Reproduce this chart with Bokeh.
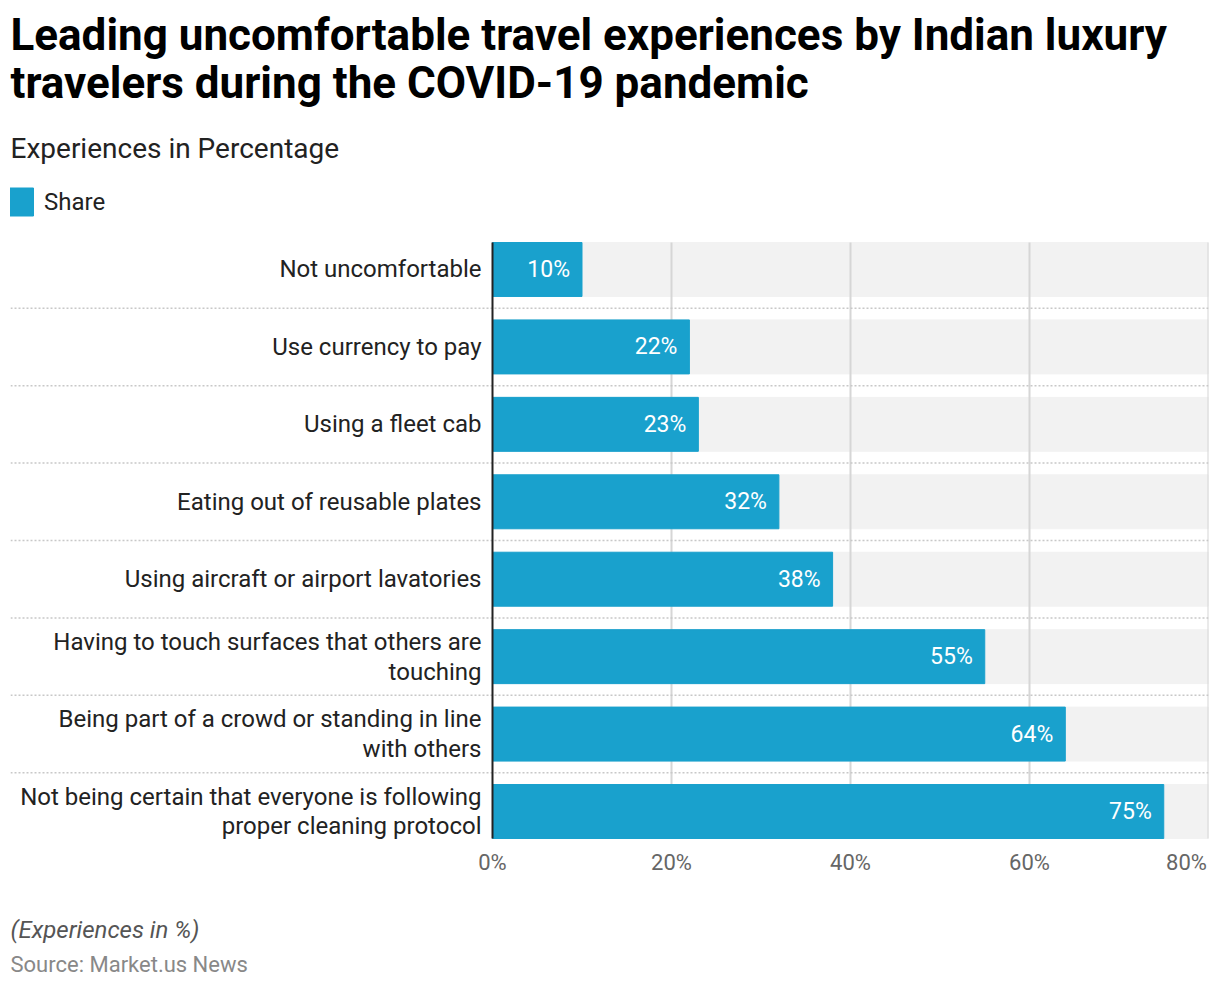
import textwrap
from bokeh.plotting import figure
from bokeh.models import Range1d, FixedTicker, Title, Legend, LegendItem, LinearAxis
from bokeh.core.properties import value
from bokeh.embed import file_html
from bokeh.resources import INLINE

# ---------------- data ----------------
categories = [
    "Not uncomfortable",
    "Use currency to pay",
    "Using a fleet cab",
    "Eating out of reusable plates",
    "Using aircraft or airport lavatories",
    "Having to touch surfaces that others are touching",
    "Being part of a crowd or standing in line with others",
    "Not being certain that everyone is following proper cleaning protocol",
]
shares = [10, 22, 23, 32, 38, 55, 64, 75]
x_ticks = [0, 20, 40, 60, 80]
tick_labels = ["0%", "20%", "40%", "60%", "80%"]
series_name = "Share"
title_lines = ["Leading uncomfortable travel experiences by Indian luxury",
               "travelers during the COVID-19 pandemic"]
subtitle = "Experiences in Percentage"
note_text = "(Experiences in %)"
source_text = "Source: Market.us News"

# ---------------- layout / style ----------------
FONT = "Roboto"
BAR_COLOR = "#19a1cd"
BAND_COLOR = "#f2f2f2"
FRAME_LEFT = 10
FRAME_RIGHT_BORDER = 8
FRAME_TOP = 184
BAND_TOP = 242
BAND_BOTTOM = 838
FRAME_BOTTOM = 843
BOTTOM_BORDER = 141
FRAME_W = 1198
FRAME_H = FRAME_BOTTOM - FRAME_TOP
AXIS_PX = 482      # pixels from frame left to the zero line
PLOT_PX = 716      # pixels from zero line to the max tick
BAR_FRAC = 0.697
LAST_LABEL_SHIFT_PX = 22
LEG_H = 35
NOTE_GAP_PX = 30

n = len(categories)
ys = list(range(n))
x_max = x_ticks[-1]
x_start = -x_max * AXIS_PX / PLOT_PX
y_lo = -BAR_FRAC / 2
y_hi = n - 1 + BAR_FRAC / 2
units_per_px = (y_hi - y_lo) / (BAND_BOTTOM - BAND_TOP)
y_top = y_lo - (BAND_TOP - FRAME_TOP) * units_per_px
y_bottom = y_hi + (FRAME_BOTTOM - BAND_BOTTOM) * units_per_px

p = figure(frame_width=FRAME_W, frame_height=FRAME_H,
           output_backend="svg", toolbar_location=None,
           x_range=Range1d(x_start, x_max),
           y_range=Range1d(y_bottom, y_top),
           min_border_left=FRAME_LEFT, min_border_right=FRAME_RIGHT_BORDER,
           min_border_top=FRAME_TOP, min_border_bottom=BOTTOM_BORDER)
p.outline_line_color = None
p.background_fill_color = "white"
p.yaxis.visible = False
p.grid.visible = False

# background bands
p.hbar(y=ys, left=0, right=x_max, height=BAR_FRAC, color=BAND_COLOR,
       level="image")

# vertical grid lines (only across the band area)
grid_x = [t for t in x_ticks if t > 0]
p.segment(x0=grid_x, x1=grid_x, y0=y_lo, y1=y_hi, line_color="#d6d6d6",
          line_width=2, level="underlay")

# separators between rows
sep_y = [i + 0.5 for i in range(n - 1)]
p.segment(x0=x_start, x1=x_max, y0=sep_y, y1=sep_y, line_color="#c8c8c8",
          line_width=1.5, line_dash="2 2", level="underlay")

# bars
bars = p.hbar(y=ys, left=0, right=shares, height=BAR_FRAC, color=BAR_COLOR)

# zero line
p.segment(x0=0, x1=0, y0=y_lo, y1=y_hi, line_color="#222222", line_width=2)

# category labels
wrapped = [textwrap.fill(c, 44) for c in categories]
p.text(x=0, y=ys, text=wrapped, x_offset=-11, text_align="right",
       text_baseline="middle", text_font=value(FONT), text_font_size="24px",
       text_color="#222222", text_line_height=1.07)

# value labels
p.text(x=shares, y=ys, text=[f"{v}%" for v in shares], x_offset=-12,
       text_align="right", text_baseline="middle", text_font=value(FONT),
       text_font_size="23px", text_color="white")

# x axis
shift = LAST_LABEL_SHIFT_PX * x_max / PLOT_PX
tick_pos = [t if t < x_max else t - shift for t in x_ticks]
ax = p.xaxis[0]
ax.ticker = FixedTicker(ticks=tick_pos)
ax.major_label_overrides = {pos: lab for pos, lab in zip(tick_pos, tick_labels)}
ax.axis_line_color = None
ax.major_tick_line_color = None
ax.minor_tick_line_color = None
ax.major_tick_out = 0
ax.major_tick_in = 0
ax.major_label_standoff = 6
ax.major_label_text_font = FONT
ax.major_label_text_font_size = "22px"
ax.major_label_text_color = "#666666"

# blank axis below the main one: only keeps space before the footnote
gap_axis = LinearAxis(ticker=FixedTicker(ticks=[x_ticks[0]]),
                      major_label_overrides={x_ticks[0]: ""},
                      axis_line_color=None,
                      major_tick_line_color=None, minor_tick_line_color=None,
                      major_tick_out=NOTE_GAP_PX, major_tick_in=0,
                      minor_tick_out=0, minor_tick_in=0,
                      major_label_standoff=0,
                      major_label_text_font_size="1px",
                      major_label_text_color="white")
p.add_layout(gap_axis, "below")

# legend, just above the bands
legend = Legend(items=[LegendItem(label=series_name, renderers=[bars])],
                orientation="horizontal", location=(-4, FRAME_H - LEG_H),
                glyph_width=30, glyph_height=LEG_H, label_standoff=8,
                label_text_font=FONT, label_text_font_size="24px",
                label_text_color="#222222", padding=0, margin=0,
                border_line_color=None, background_fill_alpha=0)
p.add_layout(legend, "center")

p.add_layout(Title(text=subtitle, align="left", text_font=FONT,
                   text_font_size="28px", text_font_style="normal",
                   text_color="#222222", standoff=40), "above")
p.add_layout(Title(text="\n".join(title_lines), align="left", text_font=FONT,
                   text_font_size="44px", text_font_style="bold",
                   text_line_height=0.93,
                   text_color="#000000", standoff=0), "above")

p.add_layout(Title(text=note_text, align="left", text_font=FONT,
                   text_font_size="24px", text_font_style="italic",
                   text_color="#555555", standoff=12), "below")
p.add_layout(Title(text=source_text, align="left", text_font=FONT,
                   text_font_size="22px", text_font_style="normal",
                   text_color="#888888", standoff=0), "below")

open("out.html", "w").write(file_html(p, INLINE))
